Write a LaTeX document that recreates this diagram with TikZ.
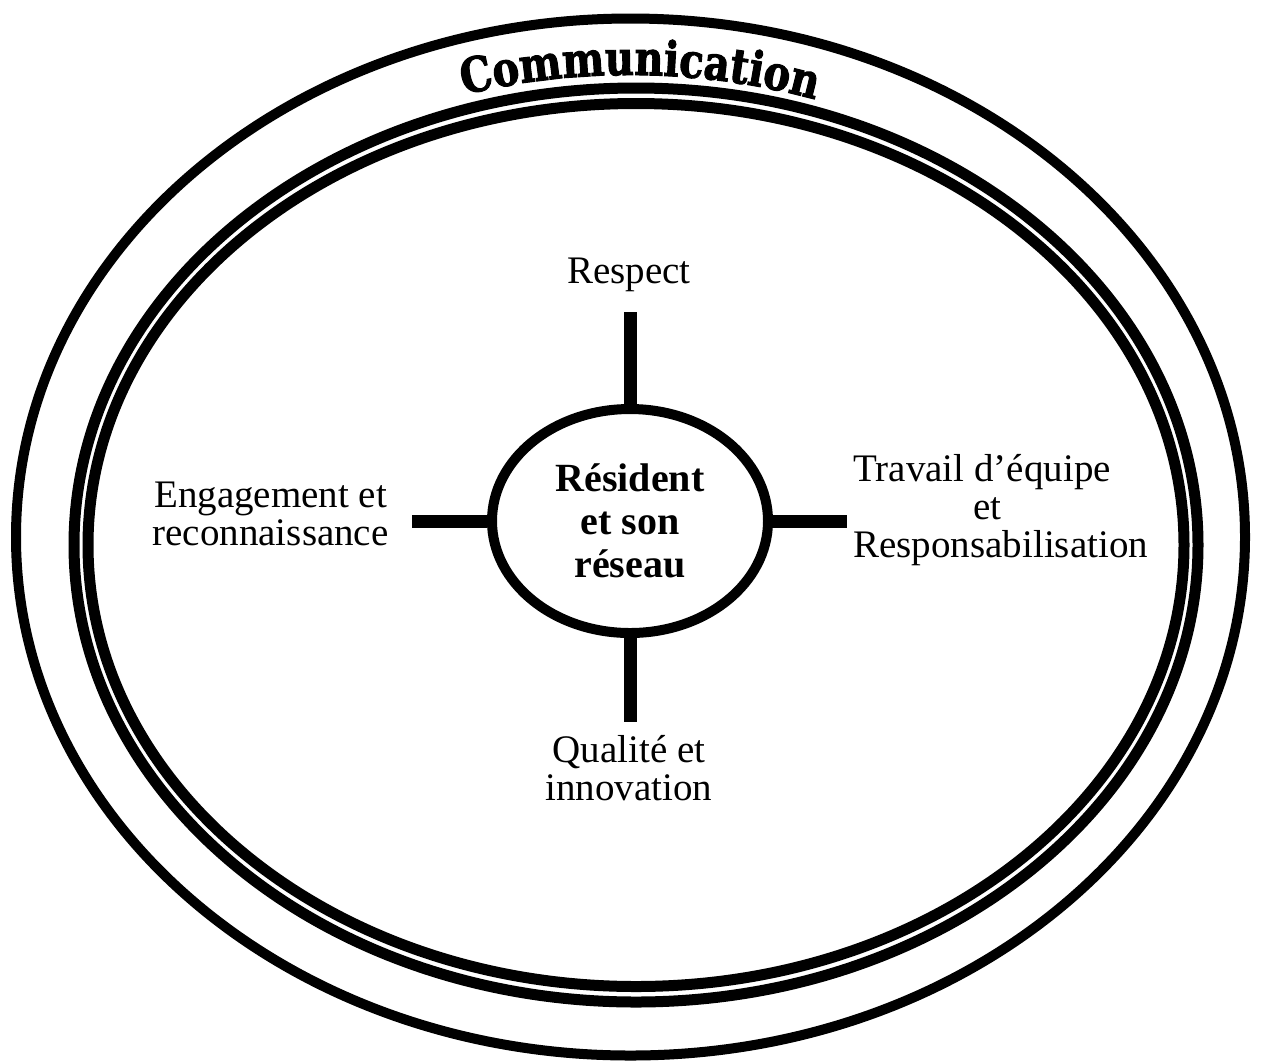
\documentclass[tikz,border=0pt]{standalone}
\usepackage{fontspec}
\usepackage{tikz}
\usetikzlibrary{shapes.geometric,decorations.text}
\setmainfont{Liberation Serif}
\newfontfamily\bannerfont{DejaVu Serif Bold}[FakeBold=2,FakeStretch=0.83]
\tikzstyle{ring}=[line width=5.5pt]
\tikzstyle{hub}=[ellipse,draw,line width=5pt,minimum width=138pt,minimum height=112pt,inner sep=0pt,align=center,font=\bfseries\fontsize{20}{21.5}\selectfont]
\tikzstyle{spoke}=[line width=6.5pt]
\tikzstyle{value}=[inner sep=0pt,font=\fontsize{19.5}{19}\selectfont]

\begin{document}
\begin{tikzpicture}[x=0.5pt,y=-0.5pt]
\useasboundingbox (0,0) rectangle (1263,1062);

\draw[ring, line width=5pt] (630.5,537) ellipse [x radius=614.5, y radius=518.5];
\draw[ring] (636,545) ellipse [x radius=562, y radius=457];
\draw[ring] (636,545) ellipse [x radius=548, y radius=441.5];

% title bent along the outer band
\path[decorate, decoration={text along path, text align=center,
  text={|\bannerfont\fontsize{24}{24}\selectfont|Communication}}]
  (630.5,537) ++(236:575 and 462) arc[start angle=236, end angle=306, x radius=575, y radius=462];

\node[hub] at (630, 521) (r) {Résident\\et son\\réseau};
\node[value, anchor=base] at (629, 283) (resp) {Respect};
\node[value, align=center, anchor=east] at (389, 514) (eng) {Engagement et\\reconnaissance};
\node[value, align=left, anchor=west] at (853, 510) (trav) {Travail d’équipe\\\hspace*{60pt}et\\Responsabilisation};
\node[value, align=center] at (629, 768) (qual) {Qualité et\\innovation};

\coordinate (rt) at (630, 312);
\coordinate (rl) at (412, 521);
\coordinate (rr) at (847, 521);
\coordinate (rb) at (630, 722);
\draw[spoke] (r.north) -- (rt);
\draw[spoke] (r.west) -- (rl);
\draw[spoke] (r.east) -- (rr);
\draw[spoke] (r.south) -- (rb);

\end{tikzpicture}
\end{document}
